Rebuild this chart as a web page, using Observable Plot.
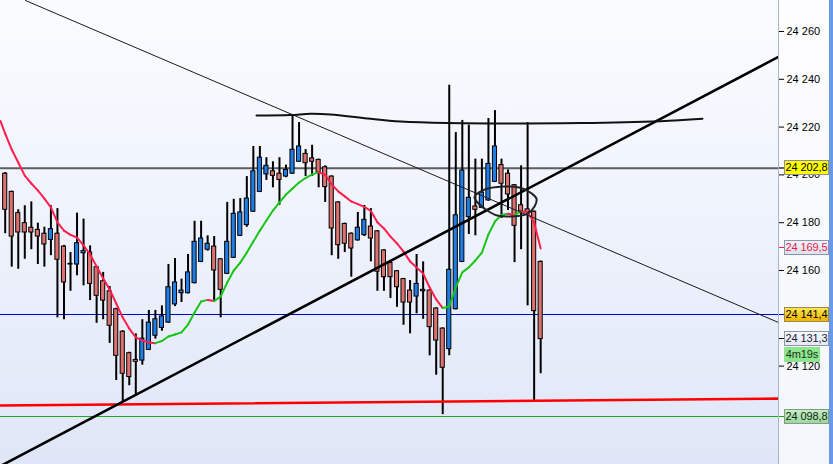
<!DOCTYPE html>
<html><head><meta charset="utf-8">
<script src="https://cdn.jsdelivr.net/npm/d3@7"></script>
<script src="https://cdn.jsdelivr.net/npm/@observablehq/plot@0.6"></script>
<style>
body{margin:0;background:#fff;}
#wrap{position:relative;width:833px;height:464px;overflow:hidden;font-family:"Liberation Sans",Arial,sans-serif;}
#bg{position:absolute;left:0;top:0;width:779px;height:464px;background:linear-gradient(to bottom,#fafcff 0%,#eef2fc 50%,#dfe6f7 100%);}
#axbg{position:absolute;left:778px;top:0;width:51px;height:464px;background:linear-gradient(to bottom,#fdfdff,#f4f6fb);border-left:1px solid #a9b4cc;box-sizing:border-box;}
#strip{position:absolute;left:829px;top:0;width:4px;height:464px;background:#6a9ae6;}
#chart{position:absolute;left:0;top:0;}
.lbl{position:absolute;left:784px;width:43px;height:13px;font-size:11px;line-height:13px;text-align:center;border:1px solid #8c96aa;white-space:nowrap;letter-spacing:-0.1px;}
.tk{position:absolute;left:779px;width:5px;height:1px;}
</style></head>
<body>
<div id="wrap"><div id="bg"></div><div id="axbg"></div><div id="strip"></div><div id="chart"></div></div>
<script>
// ---- data ----
const open = [24200.5,24192.9,24184.0,24179.8,24177.9,24177.0,24175.4,24172.8,24175.4,24170.0,
 24162.8,24162.5,24167.2,24167.5,24161.4,24155.5,24151.3,24143.8,24134.4,24125.4,
 24122.6,24122.3,24126.8,24132.7,24136.0,24138.2,24145.8,24150.5,24150.5,24154.7,
 24163.6,24168.7,24170.0,24164.7,24158.6,24165.3,24174.5,24179.0,24184.6,24192.9,
 24200.2,24201.5,24200.5,24199.3,24200.5,24205.5,24208.8,24206.9,24206.3,24203.2,
 24199.3,24188.5,24179.5,24175.4,24172.6,24174.8,24178.4,24176.4,24168.4,24163.1,
 24159.7,24156.4,24151.6,24149.1,24151.9,24151.6,24144.1,24135.7,24127.1,24143.8,
 24163.6,24182.3,24186.8,24186.2,24189.3,24197.1,24204.1,24200.5,24195.7,24187.3,
 24185.6,24184.6,24163.6];
const high = [24201.0,24193.2,24185.4,24187.1,24188.7,24179.8,24178.1,24187.1,24185.9,24170.5,
 24167.5,24184.0,24181.5,24170.3,24161.8,24159.2,24153.3,24144.2,24134.8,24125.8,
 24133.5,24139.4,24143.3,24143.3,24145.2,24162.5,24165.0,24156.4,24166.7,24180.6,
 24180.6,24174.5,24174.2,24165.0,24188.5,24189.8,24190.1,24199.3,24211.9,24211.9,
 24207.2,24205.5,24207.2,24204.1,24225.0,24221.9,24210.6,24212.4,24206.6,24203.8,
 24199.6,24188.8,24179.8,24175.7,24184.3,24187.2,24185.9,24176.7,24168.7,24164.2,
 24160.0,24156.7,24155.8,24166.7,24163.6,24151.9,24144.4,24136.0,24237.5,24217.7,
 24222.8,24220.8,24206.6,24206.6,24223.6,24226.9,24206.6,24202.1,24196.0,24203.8,
 24221.9,24184.9,24164.0];
const low = [24175.4,24161.4,24160.5,24164.7,24168.7,24162.5,24161.4,24166.2,24140.2,24139.4,
 24151.3,24157.8,24153.6,24147.4,24137.9,24139.4,24129.5,24114.0,24105.1,24111.8,
 24108.1,24120.4,24126.5,24131.3,24134.6,24137.9,24144.9,24146.6,24150.2,24154.4,
 24163.3,24168.1,24147.4,24140.2,24158.3,24165.0,24174.2,24178.1,24184.3,24192.6,
 24197.7,24194.6,24187.3,24198.8,24200.2,24205.2,24199.3,24199.3,24194.6,24188.5,
 24166.2,24164.7,24167.5,24157.2,24172.3,24174.2,24163.6,24151.3,24151.3,24148.3,
 24144.6,24137.1,24133.5,24141.9,24139.6,24124.3,24116.2,24099.7,24124.3,24143.5,
 24163.3,24175.1,24174.5,24185.9,24189.0,24196.8,24181.8,24185.1,24163.3,24168.7,
 24145.2,24105.6,24116.8];
const close = [24185.4,24174.2,24175.9,24175.9,24175.9,24174.2,24170.9,24177.3,24164.5,24155.0,
 24162.5,24171.4,24168.1,24154.4,24149.4,24147.4,24136.9,24124.3,24116.8,24115.4,
 24121.8,24131.5,24138.2,24139.6,24140.8,24153.0,24155.0,24151.6,24159.2,24172.0,
 24173.4,24171.2,24160.0,24151.9,24172.0,24183.7,24184.3,24190.1,24201.5,24207.2,
 24203.8,24199.6,24197.9,24202.1,24210.5,24211.9,24204.9,24205.5,24201.0,24194.9,
 24177.6,24170.6,24171.2,24169.2,24177.9,24181.2,24173.4,24159.5,24157.2,24157.2,
 24153.0,24146.6,24146.6,24154.4,24151.3,24136.3,24130.7,24119.3,24160.3,24183.1,
 24201.8,24190.4,24185.4,24192.6,24204.6,24211.9,24196.3,24191.8,24178.7,24184.8,
 24184.3,24143.0,24131.3];
// moving average, one value per bar; maStart is its value at the left edge of the chart
const maStart = 24222.5;
const ma = [24217.3,24210.6,24205.2,24199.7,24196.4,24193.5,24190.1,24186.4,24180.1,24176.7,
 24174.9,24173.8,24170.5,24166.7,24161.7,24156.7,24152.1,24146.2,24140.3,24135.7,
 24132.0,24130.7,24129.9,24129.6,24130.5,24132.4,24133.2,24134.1,24137.4,24142.4,
 24147.0,24147.7,24147.2,24149.1,24155.0,24160.0,24163.3,24167.5,24172.1,24176.7,
 24180.9,24185.1,24188.5,24191.8,24194.3,24196.8,24198.7,24200.2,24201.1,24200.0,
 24196.0,24193.1,24191.0,24188.9,24187.8,24186.6,24184.9,24180.2,24177.6,24174.2,
 24171.3,24167.9,24163.8,24161.3,24158.7,24152.9,24147.9,24144.3,24144.9,24152.9,
 24159.2,24161.3,24164.2,24167.5,24175.1,24180.5,24183.2,24183.7,24183.2,24184.7,
 24184.4,24180.1,24169.2];

// drawn objects: [bar index, price]
const thinTrend = [[4.11,24272.97],[119.42,24138.24]];
const thickTrend = [[0.28,24078.2],[119.42,24249.4]];
const redLine = [[0.28,24103.5],[119.42,24106.4]];
const topLine = [[39.48,24224.85],[44.69,24225.06],[47.75,24225.56],[50.82,24225.27],[56.48,24223.6],
 [61.54,24222.34],[68.73,24221.72],[89.10,24221.72],[101.35,24222.47],[107.78,24223.47]];
const ellipse = [[72.87,24190.67],[74.29,24193.77],[77.36,24195.15],[79.91,24194.6],[81.70,24192.09],
 [82.36,24190.0],[82.06,24186.78],[80.94,24183.72],[78.38,24182.59],[76.34,24183.01],[74.81,24185.10],[73.53,24187.91]];

const levelGray = 24202.8, levelBlue = 24141.4, levelGreen = 24098.8;
const maLast = 24169.5, lastPrice = 24131.3, timer = "4m19s";
const yTicks = [24120,24160,24180,24200,24220,24240,24260];
const xDomain = [0.28, 119.42];
const yDomain = [24078.83, 24272.97];

// ---- build ----
const loc = d3.formatLocale({decimal:",", thousands:" ", grouping:[3], currency:["",""]});
const fmt0 = loc.format(",.0f"), fmt1 = loc.format(",.1f");
const candles = open.map((o,k)=>({i:k+1,o,h:high[k],l:low[k],c:close[k]}));
const maPts = [{x:xDomain[0], y:maStart}, ...ma.map((v,k)=>({x:k+1, y:v}))];
const maSeg = d3.range(1, maPts.length).map(k=>({x1:maPts[k-1].x,y1:maPts[k-1].y,x2:maPts[k].x,y2:maPts[k].y,up:maPts[k].y>=maPts[k-1].y}));
const pts = a => a.map(([x,y])=>({x,y}));

const chart = Plot.plot({
  width:833, height:464, marginLeft:0, marginRight:55, marginTop:0, marginBottom:0,
  style:{background:"transparent", fontFamily:"Liberation Sans, Arial, sans-serif", fontSize:"11px", color:"#000", overflow:"visible"},
  x:{domain:xDomain, axis:null},
  y:{domain:yDomain, axis:"right", ticks:yTicks, tickFormat:fmt0, tickSize:5, tickPadding:3, label:null},
  marks:[
    Plot.ruleY([levelGray], {stroke:"#5e5e5e", strokeWidth:2}),
    Plot.ruleY([levelBlue], {stroke:"#0000cc", strokeWidth:1, shapeRendering:"crispEdges"}),
    Plot.ruleY([levelGreen], {stroke:"#1fa81f", strokeWidth:1, shapeRendering:"crispEdges"}),
    Plot.ruleX(candles, {x:"i", y1:"l", y2:"h", stroke:"#000", strokeWidth:2}),
    Plot.rect(candles, {x1:d=>d.i-0.5, x2:d=>d.i+0.5, y1:"o", y2:"c",
      fill:d=>d.c>=d.o?"#1f7de6":"#dd716d", stroke:"#000", strokeWidth:1, insetLeft:1.2, insetRight:1.2}),
    Plot.link(maSeg, {x1:"x1", y1:"y1", x2:"x2", y2:"y2", stroke:d=>d.up?"#18c418":"#ff1f4c", strokeWidth:2, strokeLinecap:"round"}),
    Plot.line(pts(redLine), {x:"x", y:"y", stroke:"#ff0000", strokeWidth:2.6, clip:true}),
    Plot.line(pts(thinTrend), {x:"x", y:"y", stroke:"#1a1a1a", strokeWidth:1, clip:true}),
    Plot.line(pts(thickTrend), {x:"x", y:"y", stroke:"#000", strokeWidth:2.6, clip:true}),
    Plot.line(pts(topLine), {x:"x", y:"y", stroke:"#111", strokeWidth:2, curve:"catmull-rom"}),
    Plot.line(pts(ellipse), {x:"x", y:"y", stroke:"#222", strokeWidth:2, curve:"catmull-rom-closed"})
  ]
});
document.getElementById("chart").appendChild(chart);

// price labels on the right axis, positioned with the plot's y scale
const ys = chart.scale("y");
const yPix = d3.scaleLinear(ys.domain, ys.range);
const wrap = document.getElementById("wrap");
function label(v, text, bg, color, border, opts={}){
  const d = document.createElement("div");
  d.className = "lbl";
  d.textContent = text;
  d.style.top = (yPix(v) - 7.5 + (opts.shift||0)) + "px";
  d.style.background = bg; d.style.color = color; d.style.borderColor = border;
  if (opts.width) d.style.width = opts.width + "px";
  wrap.appendChild(d);
  if (!opts.noTick){
    const t = document.createElement("div");
    t.className = "tk"; t.style.top = Math.round(yPix(v) - (opts.tickH||1)/2) + "px";
    t.style.height = (opts.tickH||1) + "px"; t.style.background = opts.tick;
    wrap.appendChild(t);
  }
}
label(levelGray, fmt1(levelGray), "#ffff00", "#000", "#8f8f8f", {tick:"#5e5e5e", tickH:2});
label(maLast, fmt1(maLast), "linear-gradient(#eef2f8,#dde3ee)", "#ee1846", "#8c96aa", {tick:"#ff1f4c"});
label(levelBlue, fmt1(levelBlue), "linear-gradient(#ffe650,#f2b400)", "#000", "#9a8a50", {tick:"#0000cc"});
label(lastPrice, fmt1(lastPrice), "linear-gradient(#f6f8fc,#e4e9f2)", "#1a1a3a", "#8c96aa", {tick:"#000"});
label(lastPrice, timer, "#8fe48f", "#143814", "#8fe48f", {shift:15.5, width:34, noTick:true});
label(levelGreen, fmt1(levelGreen), "linear-gradient(#c8ecc8,#9fd59f)", "#0c2a0c", "#7fa07f", {tick:"#1fa81f"});
</script>
</body></html>
